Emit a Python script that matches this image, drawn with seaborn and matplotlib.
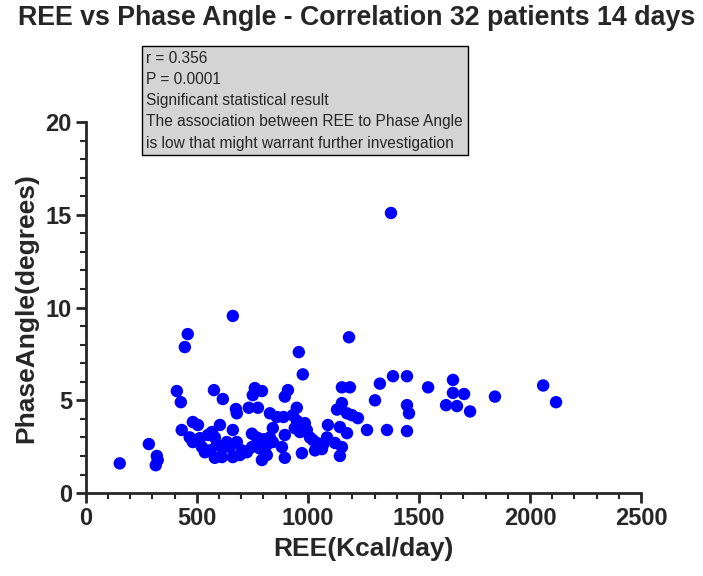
import numpy as np
import pandas as pd
import matplotlib
matplotlib.use('Agg')
import matplotlib.pyplot as plt
from matplotlib.ticker import MultipleLocator
import seaborn as sns

# REE (kcal/day) and phase angle (degrees)
ree = [
    153, 284, 320, 324, 315, 410, 428, 446, 459, 662, 959, 977, 1185, 1374,
    577, 617, 761, 793, 752, 676, 680, 734, 775, 829, 860, 890,
    482, 505, 604, 662, 748, 770, 842, 829, 896, 432,
    468, 482, 514, 550, 568, 581,
    523, 536, 559, 590, 613, 635, 649, 680,
    703, 725, 748, 784, 815, 842, 800,
    581, 613, 662, 694, 793, 815, 883, 896,
    910, 896, 1153, 1189, 1324, 1302, 950, 932, 1153, 1131, 1176, 1198, 1225,
    950, 986, 941, 964, 995, 1009, 1090, 1144, 1176, 1266,
    1022, 1041, 1068, 1086, 1122, 1153, 973, 1032, 1063, 1144,
    1383, 1446, 1541, 1446, 1455, 1653, 1653, 1703, 1622, 1671, 1730,
    1356, 1446, 1842, 2059, 2117,
]
phase_angle = [
    1.6, 2.64, 2.0, 1.78, 1.5, 5.5, 4.9, 7.87, 8.57, 9.55, 7.6, 6.4, 8.4, 15.1,
    5.55, 5.07, 5.66, 5.5, 5.28, 4.53, 4.3, 4.6, 4.6, 4.3, 4.1, 4.1,
    3.83, 3.67, 3.67, 3.4, 3.2, 3.0, 3.5, 3.0, 3.13, 3.4,
    3.0, 2.75, 2.96, 3.13, 3.29, 3.0,
    2.48, 2.2, 2.3, 2.6, 2.4, 2.75, 2.48, 2.75,
    2.3, 2.2, 2.48, 2.4, 2.6, 2.75, 2.9,
    1.9, 1.94, 1.94, 2.05, 1.78, 2.05, 2.48, 1.9,
    5.55, 5.2, 5.7, 5.7, 5.9, 5.0, 4.6, 4.2, 4.85, 4.5, 4.3, 4.2, 4.04,
    3.9, 3.77, 3.5, 3.29, 3.4, 3.0, 3.67, 3.56, 3.23, 3.4,
    2.86, 2.7, 2.6, 3.0, 2.7, 2.48, 2.15, 2.3, 2.37, 2.0,
    6.3, 6.3, 5.7, 4.74, 4.3, 6.1, 5.4, 5.34, 4.74, 4.69, 4.4,
    3.4, 3.34, 5.2, 5.8, 4.9,
]

stats_lines = [
    "r = 0.356",
    "P = 0.0001",
    "Significant statistical result",
    "The association between REE to Phase Angle",
    "is low that might warrant further investigation",
]

df = pd.DataFrame({'REE': ree, 'PhaseAngle': phase_angle})

sns.set_style('ticks')
plt.rcParams['font.family'] = ['Liberation Sans', 'DejaVu Sans']

fig = plt.figure(figsize=(7.03, 5.76), dpi=100)
ax = fig.add_axes([0.122, 0.144, 0.79, 0.644])

sns.scatterplot(data=df, x='REE', y='PhaseAngle', ax=ax, color='#0000ff',
                s=80, edgecolor='none', legend=False)

ax.set_xlim(0, 2500)
ax.set_ylim(0, 20)
ax.xaxis.set_major_locator(MultipleLocator(500))
ax.xaxis.set_minor_locator(MultipleLocator(100))
ax.yaxis.set_major_locator(MultipleLocator(5))
ax.yaxis.set_minor_locator(MultipleLocator(1))
for side in ['top', 'right']:
    ax.spines[side].set_visible(False)
for side in ['left', 'bottom']:
    ax.spines[side].set_linewidth(2)
ax.tick_params(which='major', length=7, width=2, labelsize=17, pad=3)
ax.tick_params(which='minor', length=4, width=1.5)
for lab in ax.get_xticklabels() + ax.get_yticklabels():
    lab.set_fontweight('bold')

ax.set_xlabel('REE(Kcal/day)', fontsize=19, fontweight='bold', labelpad=5)
ax.set_ylabel('PhaseAngle(degrees)', fontsize=19, fontweight='bold', labelpad=5)

fig.text(0.508, 0.968, 'REE vs Phase Angle - Correlation 32 patients 14 days',
         ha='center', va='center', fontsize=19.3, fontweight='bold')

# stats box overlapping the top of the plot area
fig.text(0.208, 0.912, '\n'.join(stats_lines), ha='left', va='top',
         fontsize=11.2, linespacing=1.52,
         bbox=dict(boxstyle='square,pad=0.3', facecolor='#d4d4d4',
                   edgecolor='black', linewidth=1))

fig.savefig('out.png', dpi=100)
